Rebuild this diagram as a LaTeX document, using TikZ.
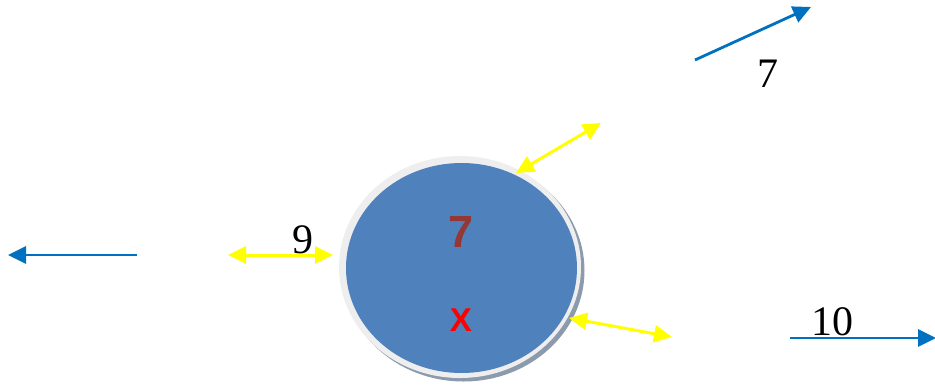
\documentclass[tikz,border=0pt]{standalone}
\usepackage{fontspec}
\setmainfont{Liberation Serif}
\newfontfamily\sansb{Liberation Sans}
\usetikzlibrary{arrows.meta,shapes.geometric}
\definecolor{arrblue}{HTML}{0070C0}
\definecolor{ballblue}{HTML}{4F81BD}
\definecolor{ringgray}{HTML}{EEEEEE}
\definecolor{shadowgray}{HTML}{8C9AAE}
\definecolor{darkred}{HTML}{953735}
\definecolor{yel}{HTML}{FFFF00}
\tikzset{
  bluearrow/.style={draw=arrblue, line width=2.8pt, -{Triangle[length=18pt,width=17pt]}},
  yellowarrow/.style={draw=yel, line width=3pt, {Triangle[length=18pt,width=17pt]}-{Triangle[length=18pt,width=17pt]}},
  numlabel/.style={font=\fontsize{42}{42}\selectfont, anchor=base, inner sep=0pt},
}
\begin{document}
\begin{tikzpicture}[x=1pt,y=-1pt]
\useasboundingbox (0,0) rectangle (935,389);
% ball
\fill[shadowgray] (463.5,270.5) ellipse [x radius=121pt, y radius=111pt];
\fill[ringgray] (460,267) ellipse [x radius=121pt, y radius=111pt];
\node[ellipse, fill=ballblue, minimum width=231pt, minimum height=210pt, inner sep=0pt] (ball) at (461.5,268) {};
\node[text=darkred, font=\sansb\bfseries\fontsize{45}{45}\selectfont, inner sep=0pt] (seven) at (461,232) {7};
\node[text=red, font=\sansb\bfseries\fontsize{33}{33}\selectfont, inner sep=0pt] (x) at (461,320) {X};
% blue arrows
\coordinate (l1) at (137,255); \coordinate (l2) at (8,255);
\coordinate (t1) at (695,60); \coordinate (t2) at (811,7);
\coordinate (r1) at (790,338); \coordinate (r2) at (936,338);
\draw[bluearrow] (l1) -- (l2);
\draw[bluearrow] (t1) -- (t2);
\draw[bluearrow] (r1) -- (r2);
% yellow arrows
\coordinate (y1a) at (228,255); \coordinate (y1b) at (333,255);
\coordinate (y2a) at (516,173); \coordinate (y2b) at (601,123);
\coordinate (y3a) at (569,318); \coordinate (y3b) at (672,337);
\draw[yellowarrow] (y1a) -- (y1b);
\draw[yellowarrow] (y2a) -- (y2b);
\draw[yellowarrow] (y3a) -- (y3b);
% labels
\node[numlabel] (lab7) at (768,87) {7};
\node[numlabel] (lab9) at (303,253) {9};
\node[numlabel] (lab10) at (832,335) {10};
\end{tikzpicture}
\end{document}
